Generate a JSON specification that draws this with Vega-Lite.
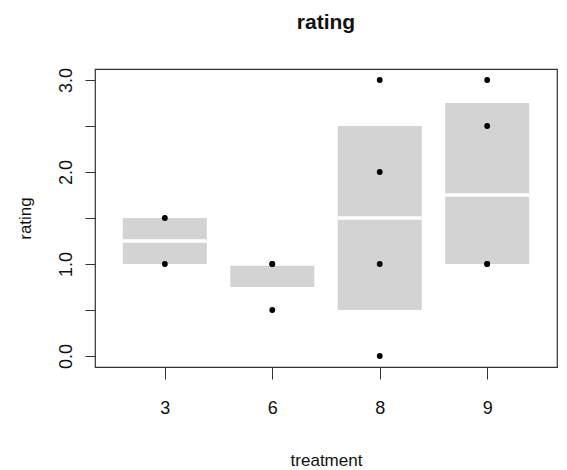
{
  "$schema": "https://vega.github.io/schema/vega-lite/v6.json",
  "autosize": {"type": "none"},
  "width": 462,
  "height": 298,
  "padding": {"left": 95, "top": 69, "right": 10, "bottom": 103},
  "background": "white",
  "config": {
    "font": "Liberation Sans",
    "view": {"stroke": "#333", "strokeWidth": 1.2},
    "axis": {"grid": false, "domain": false, "tickColor": "#333", "labelColor": "#111", "titleColor": "#111", "labelFont": "Liberation Sans", "titleFont": "Liberation Sans", "labelFontSize": 18, "titleFontSize": 17, "titleFontWeight": "normal"}
  },
  "title": {"text": "rating", "font": "Liberation Sans", "fontSize": 21, "fontWeight": "bold", "color": "#111", "anchor": "middle", "frame": "group", "baseline": "alphabetic", "offset": 18},
  "datasets": {
    "boxes": [
      {"treatment": "3", "q1": 1.0, "median": 1.25, "q3": 1.5},
      {"treatment": "6", "q1": 0.75, "median": 1.0, "q3": 1.0},
      {"treatment": "8", "q1": 0.5, "median": 1.5, "q3": 2.5},
      {"treatment": "9", "q1": 1.0, "median": 1.75, "q3": 2.75}
    ],
    "points": [
      {"treatment": "3", "rating": 1.0},
      {"treatment": "3", "rating": 1.5},
      {"treatment": "6", "rating": 0.5},
      {"treatment": "6", "rating": 1.0},
      {"treatment": "6", "rating": 1.0},
      {"treatment": "8", "rating": 0.0},
      {"treatment": "8", "rating": 1.0},
      {"treatment": "8", "rating": 2.0},
      {"treatment": "8", "rating": 3.0},
      {"treatment": "9", "rating": 1.0},
      {"treatment": "9", "rating": 1.0},
      {"treatment": "9", "rating": 2.5},
      {"treatment": "9", "rating": 3.0}
    ]
  },
  "encoding": {
    "x": {
      "field": "treatment", "type": "ordinal",
      "scale": {"type": "point", "domain": ["3", "6", "8", "9"], "padding": 0.65},
      "axis": {"title": "treatment", "labelAngle": 0, "tickSize": 12, "labelPadding": 34, "labelBaseline": "alphabetic", "titleX": 231, "titleY": 98, "titleBaseline": "alphabetic", "titleAnchor": "middle", "titleAlign": "center"}
    }
  },
  "layer": [
    {
      "data": {"name": "boxes"},
      "mark": {"type": "bar", "color": "#d3d3d3", "width": 84},
      "encoding": {
        "y": {"field": "q1", "type": "quantitative",
          "scale": {"domain": [-0.12, 3.12], "nice": false, "zero": false},
          "axis": {"title": "rating", "values": [0, 0.5, 1, 1.5, 2, 2.5, 3], "labelExpr": "datum.value % 1 == 0 ? format(datum.value, '.1f') : ''", "labelAngle": 270, "labelAlign": "center", "labelBaseline": "alphabetic", "tickSize": 10, "labelPadding": 14, "titleAngle": 270, "titleX": -65, "titleY": 149, "titleBaseline": "alphabetic", "titleAlign": "center"}},
        "y2": {"field": "q3"}
      }
    },
    {
      "data": {"name": "boxes"},
      "mark": {"type": "tick", "color": "white", "size": 84, "thickness": 3.5, "opacity": 1},
      "encoding": {
        "y": {"field": "median", "type": "quantitative"}
      }
    },
    {
      "data": {"name": "points"},
      "mark": {"type": "circle", "color": "black", "size": 34, "opacity": 1},
      "encoding": {
        "y": {"field": "rating", "type": "quantitative"}
      }
    }
  ]
}
